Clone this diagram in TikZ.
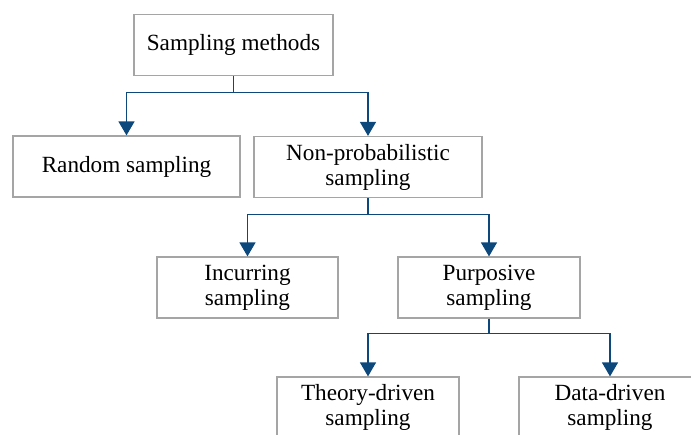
\documentclass[tikz,border=0pt]{standalone}
\usepackage{fontspec}
\setmainfont{Liberation Serif}
\usepackage{xcolor}
\usepackage{tikz}
\usetikzlibrary{arrows.meta}

\definecolor{linkblue}{RGB}{12,72,124}
\definecolor{boxgray}{RGB}{165,165,165}

\begin{document}
\begin{tikzpicture}[x=0.5pt,y=-0.5pt,>={Triangle[length=7pt,width=8pt]},
  font=\fontsize{11.6}{12.5}\selectfont]
  \tikzstyle{box}=[draw=boxgray, line width=0.6pt, fill=white, align=center, inner sep=0pt, minimum height=30.5pt]
  \tikzstyle{conn}=[->, draw=linkblue, line width=0.6pt]
  \useasboundingbox (0,0) rectangle (691,434);
  % boxes, one row per level
  \node[box, minimum width=99.5pt]  (root)   at (233.5,45)    {Sampling methods};
  \node[box, minimum width=113.5pt] (rand)   at (126.5,166.5) {Random sampling};
  \node[box, minimum width=114pt]   (nonp)   at (368,167)     {Non-probabilistic\\sampling};
  \node[box, minimum width=90.5pt]  (incur)  at (247.5,287.5) {Incurring\\sampling};
  \node[box, minimum width=91pt]    (purp)   at (489,287.5)   {Purposive\\sampling};
  \node[box, minimum width=91pt]    (theory) at (368,407.5)   {Theory-driven\\sampling};
  \node[box, minimum width=91pt]    (data)   at (610,407.5)   {Data-driven\\sampling};
  % elbow connectors
  \draw[conn] (root.south) -- ++(0,16) -| (rand.north);
  \draw[conn] (root.south) -- ++(0,16) -| (nonp.north);
  \draw[conn] (nonp.south) -- ++(0,16) -| (incur.north);
  \draw[conn] (nonp.south) -- ++(0,16) -| (purp.north);
  \draw[conn] (purp.south) -- ++(0,15) -| (theory.north);
  \draw[conn] (purp.south) -- ++(0,15) -| (data.north);
\end{tikzpicture}
\end{document}
